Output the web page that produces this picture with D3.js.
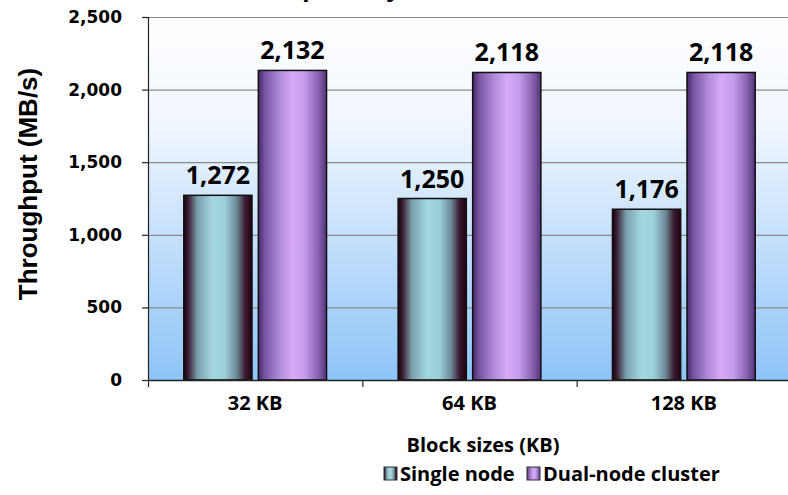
<!DOCTYPE html>
<html>
<head>
<meta charset="utf-8">
<script src="https://cdn.jsdelivr.net/npm/d3@7/dist/d3.min.js"></script>
<style>
  html, body { margin: 0; padding: 0; background: #ffffff; }
  svg { display: block; }
</style>
</head>
<body>
<svg id="chart" width="788" height="495"></svg>
<script>
// Throughput per block size, single node vs dual-node cluster
const categories = ["32 KB", "64 KB", "128 KB"];
const seriesNames = ["Single node", "Dual-node cluster"];
const singleNode = [1272, 1250, 1176];
const dualNode = [2132, 2118, 2118];
const yTicks = [0, 500, 1000, 1500, 2000, 2500];

const svg = d3.select("#chart");
const W = 788, H = 495;
const margin = { left: 148, right: -3, top: 17, bottom: 115 };
const x0 = margin.left, x1 = W - margin.right;
const y0 = margin.top, y1 = H - margin.bottom;

const x = d3.scaleBand().domain(categories).range([x0, x1]).paddingInner(0).paddingOuter(0);
const xs = d3.scaleBand().domain(seriesNames).range([0, x.bandwidth()]).paddingInner(0.085).paddingOuter(0.48);
const y = d3.scaleLinear().domain([0, 2500]).range([y1, y0]);

const defs = svg.append("defs");
const bg = defs.append("linearGradient").attr("id", "bg").attr("x1", 0).attr("y1", 0).attr("x2", 0).attr("y2", 1);
bg.append("stop").attr("offset", "0%").attr("stop-color", "#ffffff");
bg.append("stop").attr("offset", "30%").attr("stop-color", "#f0f6fe");
bg.append("stop").attr("offset", "100%").attr("stop-color", "#8ec4f8");

function barGradient(id, stops) {
  const g = defs.append("linearGradient").attr("id", id).attr("x1", 0).attr("y1", 0).attr("x2", 1).attr("y2", 0);
  stops.forEach(s => g.append("stop").attr("offset", s[0]).attr("stop-color", s[1]));
}
barGradient("gSingle", [["0%", "#1a0012"], ["7%", "#3e2238"], ["20%", "#78a0ac"], ["42%", "#a4d6e0"], ["60%", "#9ed0da"], ["78%", "#6a8896"], ["90%", "#3c1a32"], ["100%", "#22000f"]]);
barGradient("gDual", [["0%", "#48286a"], ["10%", "#7856a4"], ["30%", "#ae88d6"], ["50%", "#d6aaf8"], ["68%", "#c49ceb"], ["88%", "#8862b0"], ["100%", "#54347a"]]);

// plot background
svg.append("rect").attr("x", x0).attr("y", y0).attr("width", x1 - x0).attr("height", y1 - y0).attr("fill", "url(#bg)");

// gridlines
svg.append("g").selectAll("line").data(yTicks.filter(d => d > 0)).join("line")
  .attr("x1", x0).attr("x2", x1)
  .attr("y1", d => y(d) + 0.5).attr("y2", d => y(d) + 0.5)
  .attr("stroke", "#8a8a8a").attr("stroke-width", 1.2);

// chart title, running off the top edge of the canvas
svg.append("text").attr("x", 376).attr("y", -3).attr("text-anchor", "middle")
  .attr("font-family", "Liberation Sans, Arial, sans-serif").attr("font-weight", "bold").attr("font-size", 26)
  .attr("fill", "#000").text("Read Speed by Block Size");

// bars
const groups = svg.append("g").selectAll("g").data(categories).join("g")
  .attr("transform", d => `translate(${x(d)},0)`);

groups.each(function(c, i) {
  const g = d3.select(this);
  const vals = [singleNode[i], dualNode[i]];
  vals.forEach((v, j) => {
    const name = seriesNames[j];
    g.append("rect")
      .attr("x", xs(name)).attr("y", y(v))
      .attr("width", xs.bandwidth()).attr("height", y(0) - y(v))
      .attr("fill", j === 0 ? "url(#gSingle)" : "url(#gDual)")
      .attr("stroke", "#111").attr("stroke-width", 1.5);
    g.append("text")
      .attr("x", xs(name) + xs.bandwidth() / 2).attr("y", y(v) - 11)
      .attr("text-anchor", "middle")
      .attr("font-family", "Open Sans, sans-serif").attr("font-weight", "bold").attr("font-size", 25)
      .attr("fill", "#000")
      .text(d3.format(",")(v));
  });
});

// y axis
const yAxis = d3.axisLeft(y).tickValues(yTicks).tickSize(6).tickPadding(20).tickFormat(d3.format(","));
const ya = svg.append("g").attr("transform", `translate(${x0},0)`).call(yAxis);
ya.select(".domain").attr("stroke", "#222").attr("stroke-width", 1.2);
ya.selectAll(".tick line").attr("stroke", "#222").attr("stroke-width", 1.2);
ya.selectAll(".tick text").attr("font-family", "DejaVu Sans, sans-serif").attr("font-weight", "bold")
  .attr("font-size", 17).attr("fill", "#000");

// x axis
const xAxis = d3.axisBottom(x).tickSize(0).tickPadding(16);
const xa = svg.append("g").attr("transform", `translate(0,${y1})`).call(xAxis);
xa.select(".domain").attr("stroke", "#222").attr("stroke-width", 1.5);
xa.selectAll(".tick text").attr("font-family", "Open Sans, sans-serif").attr("font-weight", "bold")
  .attr("font-size", 20).attr("fill", "#000");
// category boundary ticks
xa.append("g").selectAll("line").data(categories).join("line")
  .attr("x1", d => x(d) + 0.5).attr("x2", d => x(d) + 0.5)
  .attr("y1", 0).attr("y2", 7).attr("stroke", "#222").attr("stroke-width", 1.2);

// axis titles
svg.append("text").attr("transform", "translate(37,184) rotate(-90)")
  .attr("text-anchor", "middle")
  .attr("font-family", "Liberation Sans, Arial, sans-serif").attr("font-weight", "bold").attr("font-size", 26)
  .attr("fill", "#000").text("Throughput (MB/s)");

svg.append("text").attr("x", 483).attr("y", 452).attr("text-anchor", "middle")
  .attr("font-family", "Open Sans, sans-serif").attr("font-weight", "bold").attr("font-size", 20)
  .attr("fill", "#000").text("Block sizes (KB)");

// legend
const legend = svg.append("g");
const legendItems = [
  { name: seriesNames[0], fill: "url(#gSingle)", x: 384 },
  { name: seriesNames[1], fill: "url(#gDual)", x: 527 }
];
legendItems.forEach(it => {
  legend.append("rect").attr("x", it.x).attr("y", 467).attr("width", 13).attr("height", 13)
    .attr("fill", it.fill).attr("stroke", "#333").attr("stroke-width", 1);
  legend.append("text").attr("x", it.x + 16).attr("y", 481)
    .attr("font-family", "Open Sans, sans-serif").attr("font-weight", "bold").attr("font-size", 20)
    .attr("fill", "#000").text(it.name);
});
</script>
</body>
</html>
